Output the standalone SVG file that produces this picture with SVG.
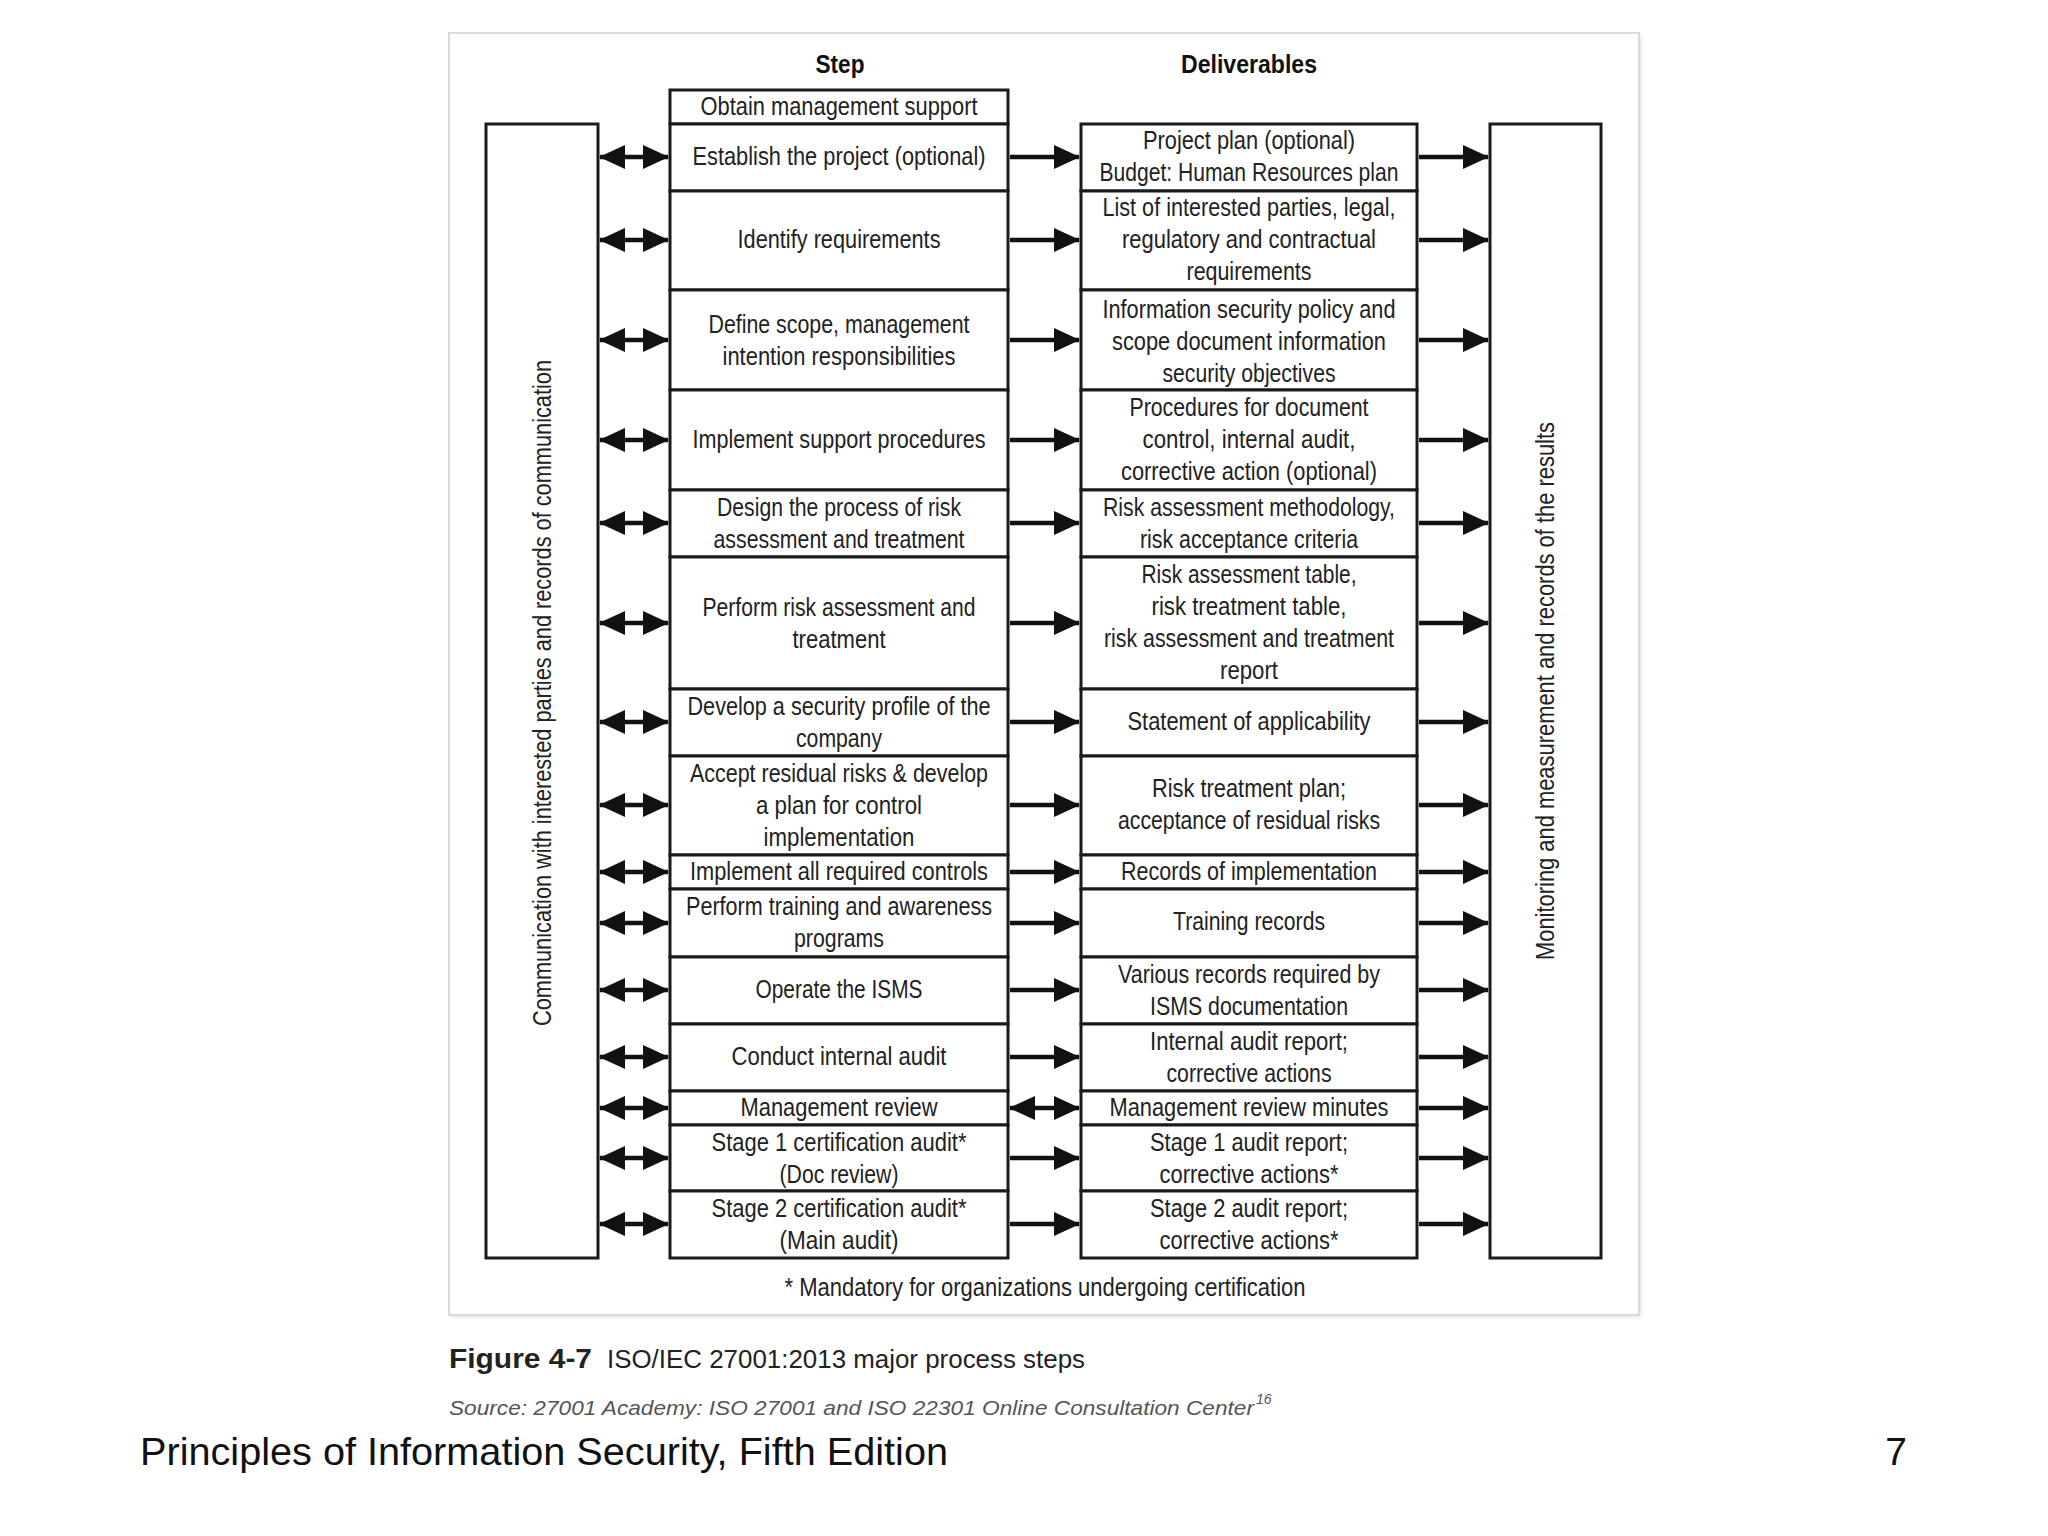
<svg xmlns="http://www.w3.org/2000/svg" width="2048" height="1536" viewBox="0 0 2048 1536">
<defs>
<style>
.box{fill:#fff;stroke:#1a1a1a;stroke-width:3}
.t{font-family:"Liberation Sans",Arial,sans-serif;font-size:25px;fill:#222;text-anchor:middle;dominant-baseline:central}
.h{font-family:"Liberation Sans",Arial,sans-serif;font-size:26px;font-weight:bold;fill:#111;text-anchor:middle;dominant-baseline:central}
.c{stroke:#111;stroke-width:4.5;fill:none}
</style>
<marker id="ah" viewBox="0 0 26 24" refX="25" refY="12" markerWidth="26" markerHeight="24" markerUnits="userSpaceOnUse" orient="auto-start-reverse">
<path d="M0,0 L26,12 L0,24 Z" fill="#111"/>
</marker>
<filter id="sh" x="-5%" y="-5%" width="110%" height="110%"><feGaussianBlur stdDeviation="2"/></filter>
</defs>
<rect width="2048" height="1536" fill="#fff"/>
<rect x="451" y="35" width="1190" height="1282" fill="#e4e4e4" filter="url(#sh)"/>
<rect id="frame" x="449" y="33" width="1190" height="1282" fill="#fff" stroke="#d9d9d9" stroke-width="2"/>

<text class="h" x="840" y="64" textLength="49" lengthAdjust="spacingAndGlyphs">Step</text>
<text class="h" x="1249" y="64" textLength="136" lengthAdjust="spacingAndGlyphs">Deliverables</text>

<g id="comm">
<rect class="box" x="486" y="124" width="112" height="1134"/>
<text class="t" transform="translate(542,693) rotate(-90)" textLength="666" lengthAdjust="spacingAndGlyphs">Communication with interested parties and records of communication</text>
</g>
<g id="monitor">
<rect class="box" x="1490" y="124" width="111" height="1134"/>
<text class="t" transform="translate(1545,691) rotate(-90)" textLength="538" lengthAdjust="spacingAndGlyphs">Monitoring and measurement and records of the results</text>
</g>

<g id="s0"><rect class="box" x="670" y="90" width="338" height="34"/><text class="t" x="839" y="106" textLength="277" lengthAdjust="spacingAndGlyphs">Obtain management support</text></g>
<g id="s1"><rect class="box" x="670" y="124" width="338" height="67"/><text class="t" x="839" y="156" textLength="293" lengthAdjust="spacingAndGlyphs">Establish the project (optional)</text></g>
<g id="s2"><rect class="box" x="670" y="191" width="338" height="99"/><text class="t" x="839" y="239" textLength="203" lengthAdjust="spacingAndGlyphs">Identify requirements</text></g>
<g id="s3"><rect class="box" x="670" y="290" width="338" height="100"/><text class="t" x="839" y="324" textLength="261" lengthAdjust="spacingAndGlyphs">Define scope, management</text><text class="t" x="839" y="356" textLength="233" lengthAdjust="spacingAndGlyphs">intention responsibilities</text></g>
<g id="s4"><rect class="box" x="670" y="390" width="338" height="100"/><text class="t" x="839" y="439" textLength="293" lengthAdjust="spacingAndGlyphs">Implement support procedures</text></g>
<g id="s5"><rect class="box" x="670" y="490" width="338" height="67"/><text class="t" x="839" y="507" textLength="244" lengthAdjust="spacingAndGlyphs">Design the process of risk</text><text class="t" x="839" y="539" textLength="251" lengthAdjust="spacingAndGlyphs">assessment and treatment</text></g>
<g id="s6"><rect class="box" x="670" y="557" width="338" height="132"/><text class="t" x="839" y="607" textLength="273" lengthAdjust="spacingAndGlyphs">Perform risk assessment and</text><text class="t" x="839" y="639" textLength="93" lengthAdjust="spacingAndGlyphs">treatment</text></g>
<g id="s7"><rect class="box" x="670" y="689" width="338" height="67"/><text class="t" x="839" y="706" textLength="303" lengthAdjust="spacingAndGlyphs">Develop a security profile of the</text><text class="t" x="839" y="738" textLength="86" lengthAdjust="spacingAndGlyphs">company</text></g>
<g id="s8"><rect class="box" x="670" y="756" width="338" height="99"/><text class="t" x="839" y="773" textLength="298" lengthAdjust="spacingAndGlyphs">Accept residual risks &amp; develop</text><text class="t" x="839" y="805" textLength="166" lengthAdjust="spacingAndGlyphs">a plan for control</text><text class="t" x="839" y="837" textLength="151" lengthAdjust="spacingAndGlyphs">implementation</text></g>
<g id="s9"><rect class="box" x="670" y="855" width="338" height="34"/><text class="t" x="839" y="871" textLength="298" lengthAdjust="spacingAndGlyphs">Implement all required controls</text></g>
<g id="s10"><rect class="box" x="670" y="889" width="338" height="68"/><text class="t" x="839" y="906" textLength="306" lengthAdjust="spacingAndGlyphs">Perform training and awareness</text><text class="t" x="839" y="938" textLength="90" lengthAdjust="spacingAndGlyphs">programs</text></g>
<g id="s11"><rect class="box" x="670" y="957" width="338" height="67"/><text class="t" x="839" y="989" textLength="167" lengthAdjust="spacingAndGlyphs">Operate the ISMS</text></g>
<g id="s12"><rect class="box" x="670" y="1024" width="338" height="67"/><text class="t" x="839" y="1056" textLength="215" lengthAdjust="spacingAndGlyphs">Conduct internal audit</text></g>
<g id="s13"><rect class="box" x="670" y="1091" width="338" height="34"/><text class="t" x="839" y="1107" textLength="197" lengthAdjust="spacingAndGlyphs">Management review</text></g>
<g id="s14"><rect class="box" x="670" y="1125" width="338" height="66"/><text class="t" x="839" y="1142" textLength="255" lengthAdjust="spacingAndGlyphs">Stage 1 certification audit*</text><text class="t" x="839" y="1174" textLength="119" lengthAdjust="spacingAndGlyphs">(Doc review)</text></g>
<g id="s15"><rect class="box" x="670" y="1191" width="338" height="67"/><text class="t" x="839" y="1208" textLength="255" lengthAdjust="spacingAndGlyphs">Stage 2 certification audit*</text><text class="t" x="839" y="1240" textLength="119" lengthAdjust="spacingAndGlyphs">(Main audit)</text></g>

<g id="d1"><rect class="box" x="1081" y="124" width="336" height="67"/><text class="t" x="1249" y="140" textLength="212" lengthAdjust="spacingAndGlyphs">Project plan (optional)</text><text class="t" x="1249" y="172" textLength="299" lengthAdjust="spacingAndGlyphs">Budget: Human Resources plan</text></g>
<g id="d2"><rect class="box" x="1081" y="191" width="336" height="99"/><text class="t" x="1249" y="207" textLength="293" lengthAdjust="spacingAndGlyphs">List of interested parties, legal,</text><text class="t" x="1249" y="239" textLength="254" lengthAdjust="spacingAndGlyphs">regulatory and contractual</text><text class="t" x="1249" y="271" textLength="125" lengthAdjust="spacingAndGlyphs">requirements</text></g>
<g id="d3"><rect class="box" x="1081" y="290" width="336" height="100"/><text class="t" x="1249" y="309" textLength="293" lengthAdjust="spacingAndGlyphs">Information security policy and</text><text class="t" x="1249" y="341" textLength="274" lengthAdjust="spacingAndGlyphs">scope document information</text><text class="t" x="1249" y="373" textLength="173" lengthAdjust="spacingAndGlyphs">security objectives</text></g>
<g id="d4"><rect class="box" x="1081" y="390" width="336" height="100"/><text class="t" x="1249" y="407" textLength="239" lengthAdjust="spacingAndGlyphs">Procedures for document</text><text class="t" x="1249" y="439" textLength="213" lengthAdjust="spacingAndGlyphs">control, internal audit,</text><text class="t" x="1249" y="471" textLength="256" lengthAdjust="spacingAndGlyphs">corrective action (optional)</text></g>
<g id="d5"><rect class="box" x="1081" y="490" width="336" height="67"/><text class="t" x="1249" y="507" textLength="292" lengthAdjust="spacingAndGlyphs">Risk assessment methodology,</text><text class="t" x="1249" y="539" textLength="218" lengthAdjust="spacingAndGlyphs">risk acceptance criteria</text></g>
<g id="d6"><rect class="box" x="1081" y="557" width="336" height="132"/><text class="t" x="1249" y="574" textLength="215" lengthAdjust="spacingAndGlyphs">Risk assessment table,</text><text class="t" x="1249" y="606" textLength="195" lengthAdjust="spacingAndGlyphs">risk treatment table,</text><text class="t" x="1249" y="638" textLength="290" lengthAdjust="spacingAndGlyphs">risk assessment and treatment</text><text class="t" x="1249" y="670" textLength="58" lengthAdjust="spacingAndGlyphs">report</text></g>
<g id="d7"><rect class="box" x="1081" y="689" width="336" height="67"/><text class="t" x="1249" y="721" textLength="243" lengthAdjust="spacingAndGlyphs">Statement of applicability</text></g>
<g id="d8"><rect class="box" x="1081" y="756" width="336" height="99"/><text class="t" x="1249" y="788" textLength="194" lengthAdjust="spacingAndGlyphs">Risk treatment plan;</text><text class="t" x="1249" y="820" textLength="262" lengthAdjust="spacingAndGlyphs">acceptance of residual risks</text></g>
<g id="d9"><rect class="box" x="1081" y="855" width="336" height="34"/><text class="t" x="1249" y="871" textLength="256" lengthAdjust="spacingAndGlyphs">Records of implementation</text></g>
<g id="d10"><rect class="box" x="1081" y="889" width="336" height="68"/><text class="t" x="1249" y="921" textLength="152" lengthAdjust="spacingAndGlyphs">Training records</text></g>
<g id="d11"><rect class="box" x="1081" y="957" width="336" height="67"/><text class="t" x="1249" y="974" textLength="262" lengthAdjust="spacingAndGlyphs">Various records required by</text><text class="t" x="1249" y="1006" textLength="198" lengthAdjust="spacingAndGlyphs">ISMS documentation</text></g>
<g id="d12"><rect class="box" x="1081" y="1024" width="336" height="67"/><text class="t" x="1249" y="1041" textLength="198" lengthAdjust="spacingAndGlyphs">Internal audit report;</text><text class="t" x="1249" y="1073" textLength="165" lengthAdjust="spacingAndGlyphs">corrective actions</text></g>
<g id="d13"><rect class="box" x="1081" y="1091" width="336" height="34"/><text class="t" x="1249" y="1107" textLength="279" lengthAdjust="spacingAndGlyphs">Management review minutes</text></g>
<g id="d14"><rect class="box" x="1081" y="1125" width="336" height="66"/><text class="t" x="1249" y="1142" textLength="198" lengthAdjust="spacingAndGlyphs">Stage 1 audit report;</text><text class="t" x="1249" y="1174" textLength="179" lengthAdjust="spacingAndGlyphs">corrective actions*</text></g>
<g id="d15"><rect class="box" x="1081" y="1191" width="336" height="67"/><text class="t" x="1249" y="1208" textLength="198" lengthAdjust="spacingAndGlyphs">Stage 2 audit report;</text><text class="t" x="1249" y="1240" textLength="179" lengthAdjust="spacingAndGlyphs">corrective actions*</text></g>

<g id="connectors" class="c">
<path d="M600,157 H668" marker-start="url(#ah)" marker-end="url(#ah)"/>
<path d="M600,240 H668" marker-start="url(#ah)" marker-end="url(#ah)"/>
<path d="M600,340 H668" marker-start="url(#ah)" marker-end="url(#ah)"/>
<path d="M600,440 H668" marker-start="url(#ah)" marker-end="url(#ah)"/>
<path d="M600,523 H668" marker-start="url(#ah)" marker-end="url(#ah)"/>
<path d="M600,623 H668" marker-start="url(#ah)" marker-end="url(#ah)"/>
<path d="M600,722 H668" marker-start="url(#ah)" marker-end="url(#ah)"/>
<path d="M600,805 H668" marker-start="url(#ah)" marker-end="url(#ah)"/>
<path d="M600,872 H668" marker-start="url(#ah)" marker-end="url(#ah)"/>
<path d="M600,923 H668" marker-start="url(#ah)" marker-end="url(#ah)"/>
<path d="M600,990 H668" marker-start="url(#ah)" marker-end="url(#ah)"/>
<path d="M600,1057 H668" marker-start="url(#ah)" marker-end="url(#ah)"/>
<path d="M600,1108 H668" marker-start="url(#ah)" marker-end="url(#ah)"/>
<path d="M600,1158 H668" marker-start="url(#ah)" marker-end="url(#ah)"/>
<path d="M600,1224 H668" marker-start="url(#ah)" marker-end="url(#ah)"/>

<path d="M1010,157 H1079" marker-end="url(#ah)"/>
<path d="M1010,240 H1079" marker-end="url(#ah)"/>
<path d="M1010,340 H1079" marker-end="url(#ah)"/>
<path d="M1010,440 H1079" marker-end="url(#ah)"/>
<path d="M1010,523 H1079" marker-end="url(#ah)"/>
<path d="M1010,623 H1079" marker-end="url(#ah)"/>
<path d="M1010,722 H1079" marker-end="url(#ah)"/>
<path d="M1010,805 H1079" marker-end="url(#ah)"/>
<path d="M1010,872 H1079" marker-end="url(#ah)"/>
<path d="M1010,923 H1079" marker-end="url(#ah)"/>
<path d="M1010,990 H1079" marker-end="url(#ah)"/>
<path d="M1010,1057 H1079" marker-end="url(#ah)"/>
<path d="M1010,1108 H1079" marker-start="url(#ah)" marker-end="url(#ah)"/>
<path d="M1010,1158 H1079" marker-end="url(#ah)"/>
<path d="M1010,1224 H1079" marker-end="url(#ah)"/>

<path d="M1419,157 H1488" marker-end="url(#ah)"/>
<path d="M1419,240 H1488" marker-end="url(#ah)"/>
<path d="M1419,340 H1488" marker-end="url(#ah)"/>
<path d="M1419,440 H1488" marker-end="url(#ah)"/>
<path d="M1419,523 H1488" marker-end="url(#ah)"/>
<path d="M1419,623 H1488" marker-end="url(#ah)"/>
<path d="M1419,722 H1488" marker-end="url(#ah)"/>
<path d="M1419,805 H1488" marker-end="url(#ah)"/>
<path d="M1419,872 H1488" marker-end="url(#ah)"/>
<path d="M1419,923 H1488" marker-end="url(#ah)"/>
<path d="M1419,990 H1488" marker-end="url(#ah)"/>
<path d="M1419,1057 H1488" marker-end="url(#ah)"/>
<path d="M1419,1108 H1488" marker-end="url(#ah)"/>
<path d="M1419,1158 H1488" marker-end="url(#ah)"/>
<path d="M1419,1224 H1488" marker-end="url(#ah)"/>
</g>

<text class="t" x="1045" y="1287" textLength="521" lengthAdjust="spacingAndGlyphs">* Mandatory for organizations undergoing certification</text>

<text x="449" y="1368" font-family="Liberation Sans, Arial, sans-serif" font-size="27" font-weight="bold" fill="#222" textLength="143" lengthAdjust="spacingAndGlyphs">Figure 4-7</text>
<text x="607" y="1368" font-family="Liberation Sans, Arial, sans-serif" font-size="26" fill="#222" textLength="478" lengthAdjust="spacingAndGlyphs">ISO/IEC 27001:2013 major process steps</text>
<text x="449" y="1415" font-family="Liberation Sans, Arial, sans-serif" font-size="21" font-style="italic" fill="#555" textLength="805" lengthAdjust="spacingAndGlyphs">Source: 27001 Academy: ISO 27001 and ISO 22301 Online Consultation Center</text>
<text x="1256" y="1404" font-family="Liberation Sans, Arial, sans-serif" font-size="14" font-style="italic" fill="#555">16</text>

<text x="140" y="1465" font-family="Liberation Sans, Arial, sans-serif" font-size="39" fill="#111" textLength="808" lengthAdjust="spacingAndGlyphs">Principles of Information Security, Fifth Edition</text>
<text x="1907" y="1465" font-family="Liberation Sans, Arial, sans-serif" font-size="39" fill="#111" text-anchor="end">7</text>
</svg>
